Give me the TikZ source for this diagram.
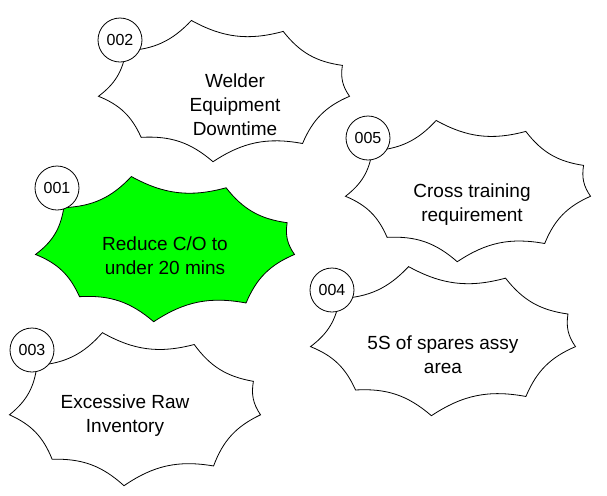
\documentclass[tikz,border=0pt]{standalone}
\usepackage{fontspec}
\setmainfont{Liberation Sans}
\usetikzlibrary{calc,positioning}
\tikzset{
    tag/.style={
           circle,
           draw=black,
           fill=white,
           minimum size=22pt,
           inner sep=0pt,
           font=\fontsize{8}{9}\selectfont,
           },
    lbl/.style={
           align=center,
           font=\fontsize{9.5}{12}\selectfont,
           },
}
% burst: centre, x radius, y radius, fill
\newcommand{\burst}[4]{%
  \filldraw[draw=black,fill=#4,thin]
    ($(#1)+(5:#2 and #3)$)
    \foreach \a/\r in {50/0.97,95/1.0,135/0.93,175/1.0,215/0.95,255/1.0,300/0.94,340/1.0,365/1.0}
    { to[bend right=22] ($(#1)+(\a:\r*#2 and \r*#3)$) } -- cycle;}
\begin{document}
\begin{tikzpicture}[x=0.5pt,y=-0.5pt]
\useasboundingbox (0,0) rectangle (607,495);
\coordinate (c2) at (224,90);
\coordinate (c1) at (165,248);
\coordinate (c5) at (468,190);
\coordinate (c4) at (443,340);
\coordinate (c3) at (135,408);
\burst{c2}{126}{72}{white}
\burst{c1}{130}{74}{green}
\burst{c5}{123}{72}{white}
\burst{c4}{133}{76}{white}
\burst{c3}{126}{78}{white}
\node[lbl] (t2) at (235,105) {Welder\\Equipment\\Downtime};
\node[lbl] (t1) at (165,256) {Reduce C/O to\\under 20 mins};
\node[lbl] (t5) at (472,205) {Cross training\\requirement};
\node[lbl] (t4) at (443,355) {5S of spares assy\\area};
\node[lbl] (t3) at (125,416) {Excessive Raw\\Inventory};
\node[tag] (n2) at (120,40) {002};
\node[tag] (n1) at (57,188) {001};
\node[tag] (n5) at (368,138) {005};
\node[tag] (n4) at (332,290) {004};
\node[tag] (n3) at (32,350) {003};
\end{tikzpicture}
\end{document}
